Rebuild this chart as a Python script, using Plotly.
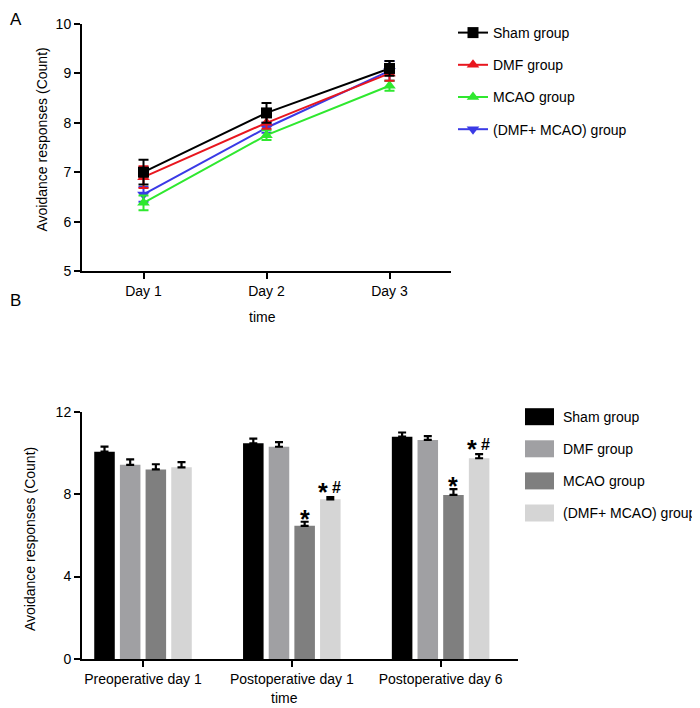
import plotly.graph_objects as go

# ---------------- Data ----------------
groups = ["Sham group", "DMF group", "MCAO group", "(DMF+ MCAO) group"]

# Panel A (line chart)
days = ["Day 1", "Day 2", "Day 3"]
sham_a = [7.0, 8.2, 9.1]
dmf_a = [6.9, 8.0, 9.0]
mcao_a = [6.38, 7.75, 8.75]
combo_a = [6.55, 7.9, 9.05]
sham_a_err = [0.25, 0.2, 0.15]
dmf_a_err = [0.22, 0.12, 0.15]
mcao_a_err = [0.15, 0.1, 0.1]
combo_a_err = [0.15, 0.1, 0.2]

# Panel B (bar chart)
periods = ["Preoperative day 1", "Postoperative day 1", "Postoperative day 6"]
sham_b = [10.06, 10.47, 10.79]
dmf_b = [9.42, 10.3, 10.63]
mcao_b = [9.2, 6.46, 7.96]
combo_b = [9.3, 7.75, 9.74]
sham_b_err = [0.25, 0.22, 0.2]
dmf_b_err = [0.27, 0.22, 0.18]
mcao_b_err = [0.25, 0.2, 0.28]
combo_b_err = [0.25, 0.1, 0.2]
sig_mcao = ["", "*", "*"]
sig_combo = ["", "*#", "*#"]

y_title = "Avoidance responses (Count)"
x_title = "time"

line_vals = [sham_a, dmf_a, mcao_a, combo_a]
line_errs = [sham_a_err, dmf_a_err, mcao_a_err, combo_a_err]
bar_vals = [sham_b, dmf_b, mcao_b, combo_b]
bar_errs = [sham_b_err, dmf_b_err, mcao_b_err, combo_b_err]
bar_sigs = [["", "", ""], ["", "", ""], sig_mcao, sig_combo]

line_colors = ["#000000", "#e8161e", "#2fe82f", "#3a3ae6"]
line_symbols = ["square", "triangle-up", "triangle-up", "triangle-down"]
bar_colors = ["#000000", "#a0a0a3", "#7f7f7f", "#d5d5d5"]

FONT = "Liberation Sans, Arial, sans-serif"
OFF = 8  # page body margin
W, H = 700 - OFF, 708 - OFF


def px_x(s):
    return (s - OFF) / W


def px_y(s):
    return 1 - (s - OFF) / H


fig = go.Figure()

# ---- Panel A traces (draw in reverse so Sham is on top) ----
for i in reversed(range(len(groups))):
    fig.add_trace(go.Scatter(
        x=days, y=line_vals[i], name=groups[i],
        mode="lines+markers",
        line=dict(color=line_colors[i], width=2),
        marker=dict(symbol=line_symbols[i], size=11, color=line_colors[i]),
        error_y=dict(type="data", array=line_errs[i], color=line_colors[i],
                     thickness=2, width=5),
        xaxis="x", yaxis="y", legend="legend",
        legendgroup="a%d" % i, legendrank=i + 1,
    ))

# ---- Panel B traces ----
for i in range(len(groups)):
    fig.add_trace(go.Bar(
        x=periods, y=bar_vals[i], name=groups[i],
        marker=dict(color=bar_colors[i], line=dict(width=0)),
        error_y=dict(type="data", symmetric=False, array=bar_errs[i],
                     arrayminus=[0] * len(periods), color="#000000",
                     thickness=2.2, width=4),
        xaxis="x2", yaxis="y2", showlegend=False,
    ))

BARGAP = 0.31
n = len(groups)
annotations = []
for i in range(n):
    for j, p in enumerate(periods):
        s = bar_sigs[i][j]
        if not s:
            continue
        off = -(1 - BARGAP) / 2 + (i + 0.5) * (1 - BARGAP) / n
        top = bar_vals[i][j] + bar_errs[i][j]
        parts = list(s)
        k = len(parts)
        for m, ch in enumerate(parts):
            xs = 0 if k == 1 else (-7 if m == 0 else 6)
            if ch == "*":
                f = dict(family=FONT, size=25, color="#000")
                ys = 3 if k == 1 else 5
            else:
                f = dict(family=FONT, size=16, color="#000")
                ys = 10
            annotations.append(dict(
                x=j + off, y=top, xref="x2", yref="y2", text="<b>%s</b>" % ch,
                showarrow=False, yanchor="middle", xanchor="center",
                xshift=xs, yshift=ys, font=f,
            ))

title_font = dict(family=FONT, size=14, color="#000")
annotations += [
    dict(x=px_x(8), y=px_y(8), xref="paper", yref="paper", text="A",
         showarrow=False, xanchor="left", yanchor="top",
         font=dict(family=FONT, size=17, color="#000")),
    dict(x=px_x(8), y=px_y(300), xref="paper", yref="paper", text="B",
         showarrow=False, xanchor="left", yanchor="middle",
         font=dict(family=FONT, size=17, color="#000")),
    # axis titles
    dict(x=px_x(42), y=px_y(139.5), xref="paper", yref="paper", text=y_title,
         textangle=-90, showarrow=False, xanchor="center", yanchor="middle",
         font=title_font),
    dict(x=px_x(30), y=px_y(539), xref="paper", yref="paper", text=y_title,
         textangle=-90, showarrow=False, xanchor="center", yanchor="middle",
         font=title_font),
    dict(x=px_x(262.5), y=px_y(316.5), xref="paper", yref="paper", text=x_title,
         showarrow=False, xanchor="center", yanchor="middle", font=title_font),
    dict(x=px_x(284), y=px_y(708), xref="paper", yref="paper", text=x_title,
         showarrow=False, xanchor="center", yanchor="bottom", font=title_font),
]

# ---- Panel B legend (boxes + labels) ----
shapes = []
row0, row_step = 416.7, 32.1
for i, g in enumerate(groups):
    c = row0 + i * row_step
    shapes.append(dict(type="rect", xref="paper", yref="paper",
                       x0=px_x(525), x1=px_x(554), y0=px_y(c + 8.5), y1=px_y(c - 8.5),
                       fillcolor=bar_colors[i], line=dict(width=0)))
    annotations.append(dict(x=px_x(561), y=px_y(c), xref="paper", yref="paper",
                            text=g, showarrow=False, xanchor="left", yanchor="middle",
                            font=dict(family=FONT, size=14, color="#000")))

axis_common = dict(
    showline=True, linecolor="#000000", linewidth=2,
    ticks="outside", ticklen=6, tickwidth=2, tickcolor="#000000",
    showgrid=False, zeroline=False, automargin=False,
    tickfont=dict(family=FONT, size=14, color="#000"),
)

fig.update_layout(
    width=W, height=H,
    margin=dict(l=0, r=0, t=0, b=0, autoexpand=False),
    paper_bgcolor="white", plot_bgcolor="white",
    font=dict(family=FONT, size=14, color="#000"),
    barmode="group", bargap=BARGAP, bargroupgap=0.2,
    xaxis=dict(axis_common, domain=[px_x(82), px_x(451)], anchor="y",
               type="category", range=[-0.5, 2.5]),
    yaxis=dict(axis_common, domain=[px_y(271), px_y(24)], anchor="x",
               range=[5, 10], tickvals=[5, 6, 7, 8, 9, 10]),
    xaxis2=dict(axis_common, domain=[px_x(82), px_x(518)], anchor="y2",
                type="category", range=[-0.41, 2.52]),
    yaxis2=dict(axis_common, domain=[px_y(659), px_y(411.7)], anchor="x2",
                range=[0, 12], tickvals=[0, 4, 8, 12]),
    legend=dict(x=px_x(453), y=px_y(17), xanchor="left", yanchor="top",
                traceorder="grouped", tracegroupgap=11,
                font=dict(family=FONT, size=14, color="#000"),
                bgcolor="rgba(0,0,0,0)"),
    annotations=annotations,
    shapes=shapes,
    showlegend=True,
)

fig.write_html("out.html")
